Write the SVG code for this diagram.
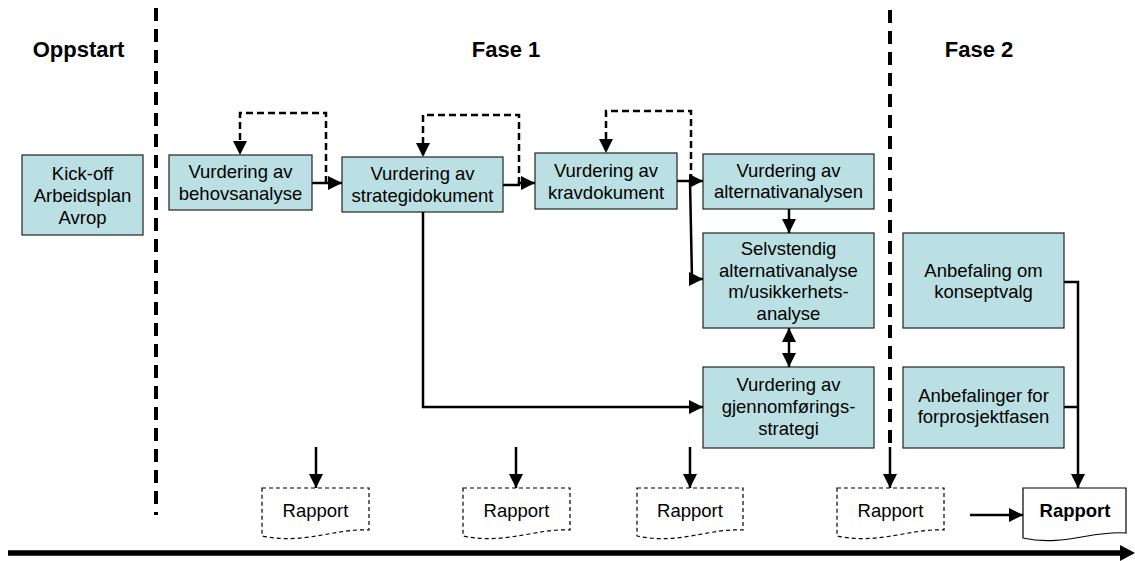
<svg xmlns="http://www.w3.org/2000/svg" width="1135" height="561" viewBox="0 0 1135 561">
<defs>
<marker id="ah" markerUnits="userSpaceOnUse" markerWidth="14" markerHeight="14" viewBox="0 0 13 13" refX="13" refY="6.5" orient="auto-start-reverse">
<path d="M0,0 L13,6.5 L0,13 Z" fill="#000"/>
</marker>
<style>
.box{fill:#BBE0E3;stroke:#222;stroke-width:1.2}
.t{font-family:"Liberation Sans",Arial,sans-serif;font-size:18.5px;fill:#000;text-anchor:middle}
.h{font-family:"Liberation Sans",Arial,sans-serif;font-size:22px;font-weight:bold;fill:#000;text-anchor:middle}
.c{fill:none;stroke:#000;stroke-width:2.5}
.cd{fill:none;stroke:#000;stroke-width:2.5;stroke-dasharray:7 4}
.phase{fill:none;stroke:#000;stroke-width:4;stroke-dasharray:13 8}
.doc{fill:#fff;stroke:#000;stroke-width:1.2;stroke-dasharray:4 3}
</style>
</defs>
<rect width="1135" height="561" fill="#fff"/>

<g id="headings">
<text class="h" x="78.5" y="57">Oppstart</text>
<text class="h" x="506" y="57">Fase 1</text>
<text class="h" x="979" y="57">Fase 2</text>
</g>

<g id="phase-lines">
<line class="phase" x1="156" y1="8" x2="156" y2="515"/>
<line class="phase" x1="890" y1="10" x2="890" y2="448"/>
</g>

<g id="kickoff">
<rect class="box" x="22" y="155" width="121" height="80"/>
<text class="t" x="82.5" y="180">Kick-off</text>
<text class="t" x="82.5" y="202">Arbeidsplan</text>
<text class="t" x="82.5" y="224">Avrop</text>
</g>
<g id="behov">
<rect class="box" x="169" y="155" width="143" height="55"/>
<text class="t" x="240.5" y="178">Vurdering av</text>
<text class="t" x="240.5" y="200">behovsanalyse</text>
</g>
<g id="strategi">
<rect class="box" x="342" y="157" width="161" height="55"/>
<text class="t" x="422.5" y="180">Vurdering av</text>
<text class="t" x="422.5" y="202">strategidokument</text>
</g>
<g id="krav">
<rect class="box" x="535" y="153" width="142" height="56"/>
<text class="t" x="606" y="177">Vurdering av</text>
<text class="t" x="606" y="199">kravdokument</text>
</g>
<g id="alternativ">
<rect class="box" x="703" y="154" width="171" height="55"/>
<text class="t" x="788.5" y="177">Vurdering av</text>
<text class="t" x="788.5" y="198">alternativanalysen</text>
</g>
<g id="selvstendig">
<rect class="box" x="703" y="233" width="171" height="95"/>
<text class="t" x="788.5" y="255">Selvstendig</text>
<text class="t" x="788.5" y="277">alternativanalyse</text>
<text class="t" x="788.5" y="298">m/usikkerhets-</text>
<text class="t" x="788.5" y="320">analyse</text>
</g>
<g id="gjennomforing">
<rect class="box" x="703" y="367" width="171" height="81"/>
<text class="t" x="788.5" y="391">Vurdering av</text>
<text class="t" x="788.5" y="413">gjennomførings-</text>
<text class="t" x="788.5" y="435">strategi</text>
</g>
<g id="konseptvalg">
<rect class="box" x="903" y="233" width="161" height="95"/>
<text class="t" x="983.5" y="277">Anbefaling om</text>
<text class="t" x="983.5" y="298">konseptvalg</text>
</g>
<g id="forprosjekt">
<rect class="box" x="903" y="367" width="161" height="81"/>
<text class="t" x="983.5" y="402">Anbefalinger for</text>
<text class="t" x="983.5" y="423">forprosjektfasen</text>
</g>

<g id="rapport1">
<path class="doc" d="M262,488 H369 V530 C335,528 305,545 262,536 Z"/>
<text class="t" x="315.5" y="517">Rapport</text>
</g>
<g id="rapport2">
<path class="doc" d="M463,488 H570 V530 C536,528 506,545 463,536 Z"/>
<text class="t" x="516.5" y="517">Rapport</text>
</g>
<g id="rapport3">
<path class="doc" d="M637,488 H743 V530 C709,528 679,545 637,536 Z"/>
<text class="t" x="690" y="517">Rapport</text>
</g>
<g id="rapport4">
<path class="doc" d="M837,488 H944 V530 C910,528 880,545 837,536 Z"/>
<text class="t" x="890.5" y="517">Rapport</text>
</g>
<g id="rapport-final">
<path d="M1023,488 H1126 V533 C1093,530 1063,547 1023,538 Z" fill="#fff" stroke="#000" stroke-width="1.2"/>
<text class="t" x="1075" y="517" font-weight="bold">Rapport</text>
</g>

<g id="connectors">
<path class="cd" d="M326,183 V113 H240 V155" marker-end="url(#ah)"/>
<path class="cd" d="M519,184 V115 H423 V157" marker-end="url(#ah)"/>
<path class="cd" d="M691,181 V111 H606 V153" marker-end="url(#ah)"/>
<path class="c" d="M312,183 H342" marker-end="url(#ah)"/>
<path class="c" d="M503,185 H519 V183 H535" marker-end="url(#ah)"/>
<path class="c" d="M677,181 H703" marker-end="url(#ah)"/>
<path class="c" d="M690,181 L692,279 H703" marker-end="url(#ah)"/>
<path class="c" d="M789,209 V233" marker-end="url(#ah)"/>
<path class="c" d="M789,328 V367" marker-start="url(#ah)" marker-end="url(#ah)"/>
<path class="c" d="M423,212 V407 H703" marker-end="url(#ah)"/>
<path class="c" d="M1064,282 H1078 V488" marker-end="url(#ah)"/>
<path class="c" d="M1064,407 H1078"/>
<path class="c" d="M316,447 V488" marker-end="url(#ah)"/>
<path class="c" d="M516,447 V488" marker-end="url(#ah)"/>
<path class="c" d="M690,447 V488" marker-end="url(#ah)"/>
<path class="c" d="M890,447 V488" marker-end="url(#ah)"/>
<path class="c" d="M970,515 H1023" marker-end="url(#ah)"/>
<line x1="8" y1="553" x2="1122" y2="553" stroke="#000" stroke-width="5.5"/>
<path d="M1120,545 L1135,553 L1120,561 Z" fill="#000"/>
</g>
</svg>
